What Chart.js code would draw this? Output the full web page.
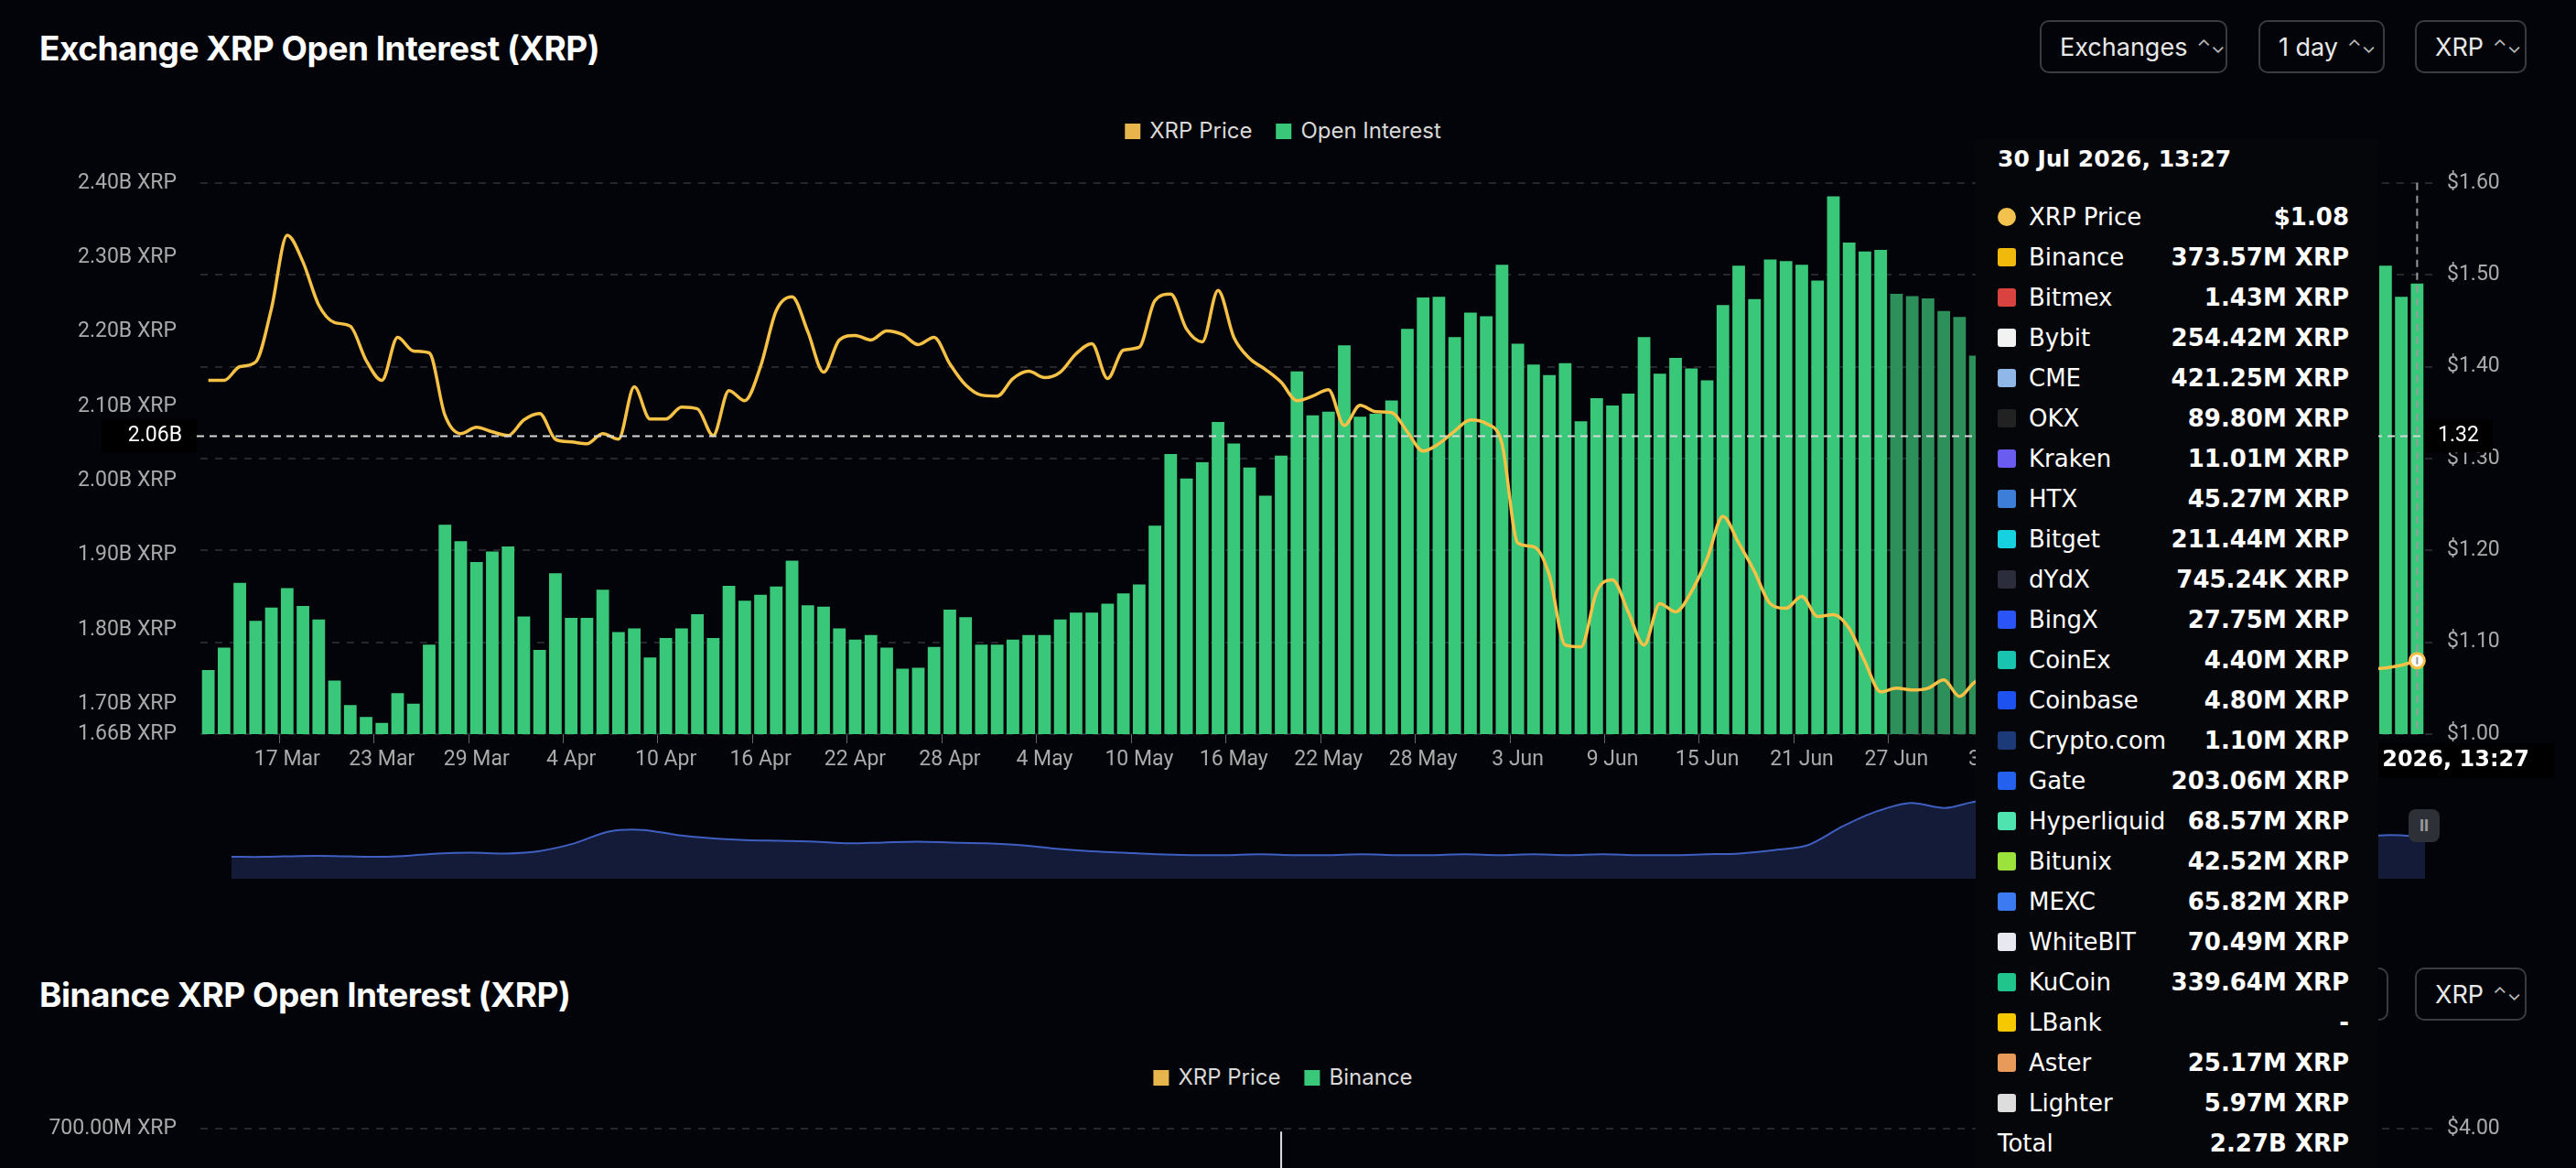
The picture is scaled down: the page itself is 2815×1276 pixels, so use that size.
<!DOCTYPE html>
<html>
<head>
<meta charset="utf-8">
<script src="https://cdn.jsdelivr.net/npm/chart.js@4"></script>
<style>
  html, body { margin: 0; padding: 0; background: #030409; width: 2815px; height: 1276px; overflow: hidden; font-family: Inter, "Noto Sans", sans-serif; color: #fff; }
  .title { position: absolute; left: 43px; font-size: 37px; font-weight: 700; letter-spacing: -0.5px; }
  .btn { position: absolute; height: 58px; border: 2px solid #3a3b40; border-radius: 10px; box-sizing: border-box; color: #e8e8e8; font-size: 27px; display: flex; align-items: center; padding-left: 20px; }
  .btn .arr { font-size: 20px; margin-left: 10px; color: #bbb; }
  .legend { position: absolute; font-size: 24px; color: #d8d8d8; display: flex; gap: 26px; transform: translateX(-50%); }
  .legend span.sw { display: inline-block; width: 17px; height: 17px; margin-right: 10px; vertical-align: -1px; }
  canvas { position: absolute; }
  #tip { position: absolute; left: 2159px; top: 153px; width: 440px; height: 1140px; background: #05060a; z-index: 5; font-family: "DejaVu Sans", sans-serif; }
  #tip .hd { position: absolute; left: 24px; top: 6px; font-size: 25px; font-weight: bold; }
  #tip .row { position: absolute; left: 24px; width: 384px; height: 40px; font-size: 26px; display: flex; align-items: center; }
  #tip .row .ic { width: 20px; height: 20px; margin-right: 14px; border-radius: 3px; flex: none; }
  #tip .row .v { margin-left: auto; font-weight: bold; }
  #pause { position: absolute; left: 2632px; top: 884px; width: 34px; height: 36px; border-radius: 8px; background: #2e3038; color: #999; font-size: 18px; text-align: center; line-height: 36px; font-weight: bold; }
</style>
</head>
<body>
<div class="title" style="top:30px">Exchange XRP Open Interest (XRP)</div>
<div class="btn" style="left:2229px;top:22px;width:205px">Exchanges<span class="arr">⌃⌄</span></div>
<div class="btn" style="left:2468px;top:22px;width:138px">1 day<span class="arr">⌃⌄</span></div>
<div class="btn" style="left:2639px;top:22px;width:122px">XRP<span class="arr">⌃⌄</span></div>
<div class="legend" id="legend1" style="left:1402px;top:128px"></div>

<canvas id="main" width="2815" height="682" style="left:0;top:168px"></canvas>
<canvas id="nav" width="2397" height="92" style="left:253px;top:868px"></canvas>
<div id="pause">II</div>

<div class="title" style="top:1064px">Binance XRP Open Interest (XRP)</div>
<div class="btn" style="left:2460px;top:1057px;width:150px"></div>
<div class="btn" style="left:2639px;top:1057px;width:122px">XRP<span class="arr">⌃⌄</span></div>
<div class="legend" id="legend2" style="left:1402px;top:1162px"></div>
<canvas id="second" width="2815" height="300" style="left:0;top:1200px"></canvas>

<div id="tip"></div>

<script>
// Categories: one bar per day, 12 Mar - 30 Jul 2026
const months = ["Mar", "Apr", "May", "Jun", "Jul"];
const monthDays = [[12, 31], [1, 30], [1, 31], [1, 30], [1, 30]];
const dates = [];
monthDays.forEach((r, m) => { for (let d = r[0]; d <= r[1]; d++) dates.push(d + " " + months[m]); });

// Open interest, billions of XRP
const openInterest = [
  1.746, 1.776, 1.863, 1.812, 1.830, 1.856, 1.832, 1.814, 1.732, 1.699,
  1.683, 1.675, 1.715, 1.701, 1.780, 1.941, 1.919, 1.891, 1.905, 1.912,
  1.818, 1.773, 1.876, 1.816, 1.816, 1.854, 1.797, 1.802, 1.763, 1.789,
  1.802, 1.821, 1.789, 1.859, 1.839, 1.847, 1.858, 1.893, 1.833, 1.831,
  1.802, 1.787, 1.793, 1.776, 1.748, 1.749, 1.777, 1.827, 1.817, 1.780,
  1.780, 1.787, 1.793, 1.793, 1.814, 1.823, 1.823, 1.835, 1.849, 1.861,
  1.940, 2.036, 2.003, 2.025, 2.079, 2.050, 2.018, 1.980, 2.034, 2.147,
  2.088, 2.093, 2.182, 2.086, 2.090, 2.108, 2.204, 2.246, 2.247, 2.193,
  2.226, 2.221, 2.290, 2.184, 2.156, 2.142, 2.158, 2.080, 2.111, 2.101,
  2.117, 2.193, 2.144, 2.165, 2.151, 2.135, 2.236, 2.289, 2.244, 2.297,
  2.295, 2.290, 2.269, 2.382, 2.320, 2.308, 2.310, 2.251, 2.248, 2.245,
  2.228, 2.220, 2.168, 2.150, 2.140, 2.160, 2.180, 2.200, 2.190, 2.220,
  2.240, 2.210, 2.230, 2.250, 2.270, 2.260, 2.240, 2.220, 2.250, 2.280,
  2.300, 2.270, 2.250, 2.240, 2.260, 2.280, 2.270, 2.290, 2.289, 2.247,
  2.265
];

// XRP price, USD
const xrpPrice = [
  1.385, 1.385, 1.400, 1.405, 1.463, 1.543, 1.514, 1.467, 1.448, 1.444,
  1.407, 1.385, 1.432, 1.417, 1.415, 1.347, 1.327, 1.334, 1.329, 1.325,
  1.342, 1.349, 1.321, 1.318, 1.316, 1.327, 1.321, 1.378, 1.343, 1.343,
  1.356, 1.354, 1.325, 1.374, 1.363, 1.400, 1.461, 1.476, 1.438, 1.394,
  1.429, 1.434, 1.429, 1.439, 1.435, 1.424, 1.432, 1.403, 1.380, 1.369,
  1.368, 1.387, 1.395, 1.388, 1.394, 1.414, 1.425, 1.387, 1.418, 1.421,
  1.472, 1.479, 1.441, 1.427, 1.483, 1.432, 1.409, 1.397, 1.383, 1.363,
  1.368, 1.375, 1.336, 1.358, 1.351, 1.350, 1.329, 1.308, 1.316, 1.330,
  1.342, 1.338, 1.316, 1.208, 1.204, 1.173, 1.097, 1.095, 1.155, 1.168,
  1.133, 1.097, 1.142, 1.133, 1.155, 1.191, 1.237, 1.208, 1.177, 1.142,
  1.137, 1.150, 1.128, 1.130, 1.115, 1.079, 1.046, 1.050, 1.048, 1.050,
  1.059, 1.041, 1.057, 1.060, 1.070, 1.050, 1.040, 1.060, 1.080, 1.090,
  1.070, 1.060, 1.050, 1.070, 1.080, 1.100, 1.090, 1.080, 1.060, 1.050,
  1.070, 1.090, 1.080, 1.070, 1.060, 1.070, 1.060, 1.070, 1.072, 1.075,
  1.080
];

const leftTicks = [1.66, 1.70, 1.80, 1.90, 2.00, 2.10, 2.20, 2.30, 2.40];
const rightTicks = [1.00, 1.10, 1.20, 1.30, 1.40, 1.50, 1.60];
const firstLabelIndex = 5, labelEvery = 6;
const hoverIndex = dates.length - 1;
const crosshairOI = 2.06;
const hoverTime = "30 Jul 2026, 13:27";
const dimFrom = 107, dimTo = 137;

// Navigator overview line (relative height 0-100)
const navValues = [
  26, 26, 27, 27, 26, 27, 30, 31, 30, 33, 42, 56, 58, 52, 48, 46, 45, 44, 42, 43,
  44, 43, 42, 40, 36, 33, 31, 29, 28, 28, 29, 28, 28, 29, 28, 28, 29, 28, 29, 28,
  29, 28, 28, 29, 30, 34, 40, 62, 80, 90, 84, 92, 86, 80, 74, 70, 66, 62, 58, 56,
  54, 52, 50, 52, 50
];

// Tooltip rows
const tipNames = ["XRP Price", "Binance", "Bitmex", "Bybit", "CME", "OKX", "Kraken", "HTX", "Bitget", "dYdX", "BingX", "CoinEx", "Coinbase", "Crypto.com", "Gate", "Hyperliquid", "Bitunix", "MEXC", "WhiteBIT", "KuCoin", "LBank", "Aster", "Lighter", "Total"];
const tipValues = ["$1.08", "373.57M XRP", "1.43M XRP", "254.42M XRP", "421.25M XRP", "89.80M XRP", "11.01M XRP", "45.27M XRP", "211.44M XRP", "745.24K XRP", "27.75M XRP", "4.40M XRP", "4.80M XRP", "1.10M XRP", "203.06M XRP", "68.57M XRP", "42.52M XRP", "65.82M XRP", "70.49M XRP", "339.64M XRP", "-", "25.17M XRP", "5.97M XRP", "2.27B XRP"];
const tipIcons = ["#f2c14e", "#f0b90b", "#d9433f", "#f2f2f2", "#8fb8e8", "#222", "#6a5cf0", "#3d7fd8", "#16d2e0", "#2b2d3d", "#2a54f5", "#18c3b0", "#1d52f0", "#1d3a78", "#2461ef", "#4fe3b0", "#9be33c", "#3b7af0", "#e8e8f0", "#20c58c", "#f5c800", "#e89a5a", "#ddd", null];

// Binance chart (only top visible)
const binanceSpikeDate = "19 May";
const binanceSpikeValue = 690;
const binanceTicks = [700];

const green = "#39c87a", greenDim = "#2d8f5a", gold = "#f6c145";
const axisFont = { family: "'Liberation Sans Narrow', Roboto, sans-serif", size: 23 };

function legend(id, items) {
  document.getElementById(id).innerHTML = items.map(it =>
    `<div><span class="sw" style="background:${it[1]}"></span>${it[0]}</div>`).join("");
}
legend("legend1", [["XRP Price", "#e6b54c"], ["Open Interest", green]]);
legend("legend2", [["XRP Price", "#e6b54c"], ["Binance", green]]);

// tooltip box
const tip = document.getElementById("tip");
let html = `<div class="hd">${hoverTime}</div>`;
tipNames.forEach((n, i) => {
  const top = 64 + i * 44;
  const ic = tipIcons[i] ? `<span class="ic" style="background:${tipIcons[i]};${i === 0 ? "border-radius:50%" : ""}"></span>` : "";
  html += `<div class="row" style="top:${top}px">${ic}<span>${n}</span><span class="v">${tipValues[i]}</span></div>`;
});
tip.innerHTML = html;

const crosshair = {
  id: "crosshair",
  afterDraw(chart) {
    const { ctx, chartArea: a, scales } = chart;
    const y = scales.y.getPixelForValue(crosshairOI);
    const x = scales.x.getPixelForValue(hoverIndex);
    ctx.save();
    ctx.setLineDash([8, 6]);
    ctx.lineWidth = 2;
    ctx.strokeStyle = "#d8d8d8";
    ctx.beginPath(); ctx.moveTo(a.left - 4, y); ctx.lineTo(a.right, y); ctx.stroke();
    ctx.strokeStyle = "#9a9a9a";
    ctx.beginPath(); ctx.moveTo(x, a.top); ctx.lineTo(x, a.bottom); ctx.stroke();
    ctx.setLineDash([]);
    ctx.font = "23px " + axisFont.family;
    ctx.textBaseline = "middle";
    ctx.fillStyle = "#000";
    ctx.fillRect(111, y - 18, 104, 36);
    ctx.fillRect(a.right, y - 18, 74, 36);
    ctx.fillStyle = "#fff";
    ctx.textAlign = "right";
    ctx.fillText(crosshairOI.toFixed(2) + "B", 199, y);
    ctx.textAlign = "left";
    ctx.fillText(scales.y1.getValueForPixel(y).toFixed(2), a.right + 14, y);
    ctx.fillStyle = "#000";
    ctx.fillRect(x - 150, a.bottom + 10, 300, 38);
    ctx.fillStyle = "#fff";
    ctx.textAlign = "center";
    ctx.font = "bold 24px 'DejaVu Sans', sans-serif";
    ctx.fillText(hoverTime, x, a.bottom + 29);
    ctx.restore();
  }
};

new Chart(document.getElementById("main"), {
  data: {
    labels: dates,
    datasets: [
      {
        type: "line", label: "XRP Price", data: xrpPrice, yAxisID: "y1",
        borderColor: gold, borderWidth: 3.5, tension: 0.4, cubicInterpolationMode: "monotone",
        pointRadius: c => c.dataIndex === hoverIndex ? 8 : 0,
        pointBackgroundColor: "#fff", pointBorderColor: gold, pointBorderWidth: 3, order: 0
      },
      {
        type: "bar", label: "Open Interest", data: openInterest, yAxisID: "y",
        backgroundColor: c => (c.dataIndex >= dimFrom && c.dataIndex <= dimTo) ? greenDim : green,
        barPercentage: 1, categoryPercentage: 0.8, order: 1
      }
    ]
  },
  options: {
    responsive: false, animation: false, devicePixelRatio: 1,
    layout: { padding: { top: 4, bottom: 0 } },
    plugins: { legend: { display: false }, tooltip: { enabled: false } },
    scales: {
      x: {
        offset: true,
        grid: { drawOnChartArea: false, tickLength: 10, color: c => ((c.index - firstLabelIndex) % labelEvery === 0 ? "#666" : "transparent") },
        border: { display: false },
        ticks: {
          autoSkip: false, maxRotation: 0, color: "#aaa", font: axisFont, padding: 4,
          callback: (v, i) => ((i - firstLabelIndex) % labelEvery === 0 ? dates[i] : "")
        },
        afterFit: s => { s.height = 48; }
      },
      y: {
        position: "left", min: leftTicks[0], max: leftTicks[leftTicks.length - 1],
        grid: { display: false }, border: { display: false },
        afterBuildTicks: s => { s.ticks = leftTicks.map(v => ({ value: v })); },
        ticks: { color: "#aaa", font: axisFont, padding: 18, callback: v => v.toFixed(2) + "B XRP" },
        afterFit: s => { s.width = 219; }
      },
      y1: {
        position: "right", min: rightTicks[0], max: rightTicks[rightTicks.length - 1],
        afterBuildTicks: s => { s.ticks = rightTicks.map(v => ({ value: v })); },
        grid: { color: "#26272c", lineWidth: 2 }, border: { display: false, dash: [8, 8] },
        ticks: { color: "#aaa", font: axisFont, padding: 16, callback: v => "$" + v.toFixed(2) },
        afterFit: s => { s.width = 165; }
      }
    }
  },
  plugins: [crosshair]
});

new Chart(document.getElementById("nav"), {
  type: "line",
  data: {
    labels: navValues.map((v, i) => i),
    datasets: [{ data: navValues, borderColor: "#3f5fc0", borderWidth: 2, fill: "start", backgroundColor: "rgba(24,34,70,0.8)", pointRadius: 0, tension: 0.3 }]
  },
  options: {
    responsive: false, animation: false, devicePixelRatio: 1,
    layout: { padding: 0 },
    plugins: { legend: { display: false }, tooltip: { enabled: false } },
    scales: { x: { display: false }, y: { display: false, min: 0, max: 100 } }
  }
});

new Chart(document.getElementById("second"), {
  type: "bar",
  data: {
    labels: dates,
    datasets: [{ label: "Binance", data: [{ x: binanceSpikeDate, y: binanceSpikeValue }], backgroundColor: "#d8d8d8", barPercentage: 0.12, categoryPercentage: 1 }]
  },
  options: {
    responsive: false, animation: false, devicePixelRatio: 1,
    layout: { padding: { top: 33 } },
    plugins: { legend: { display: false }, tooltip: { enabled: false } },
    scales: {
      x: { offset: true, display: true, grid: { display: false }, border: { display: false }, ticks: { display: false } },
      y: {
        min: 0, max: 700, position: "left", grid: { display: false }, border: { display: false },
        afterBuildTicks: s => { s.ticks = binanceTicks.map(v => ({ value: v })); },
        ticks: { color: "#aaa", font: axisFont, padding: 18, callback: v => v.toFixed(2) + "M XRP" },
        afterFit: s => { s.width = 219; }
      },
      y1: {
        min: 0, max: 4, position: "right", grid: { color: "#26272c", lineWidth: 2 }, border: { display: false, dash: [8, 8] },
        afterBuildTicks: s => { s.ticks = [{ value: 4 }]; },
        ticks: { color: "#aaa", font: axisFont, padding: 16, callback: v => "$" + v.toFixed(2) },
        afterFit: s => { s.width = 165; }
      }
    }
  }
});
</script>
</body>
</html>
